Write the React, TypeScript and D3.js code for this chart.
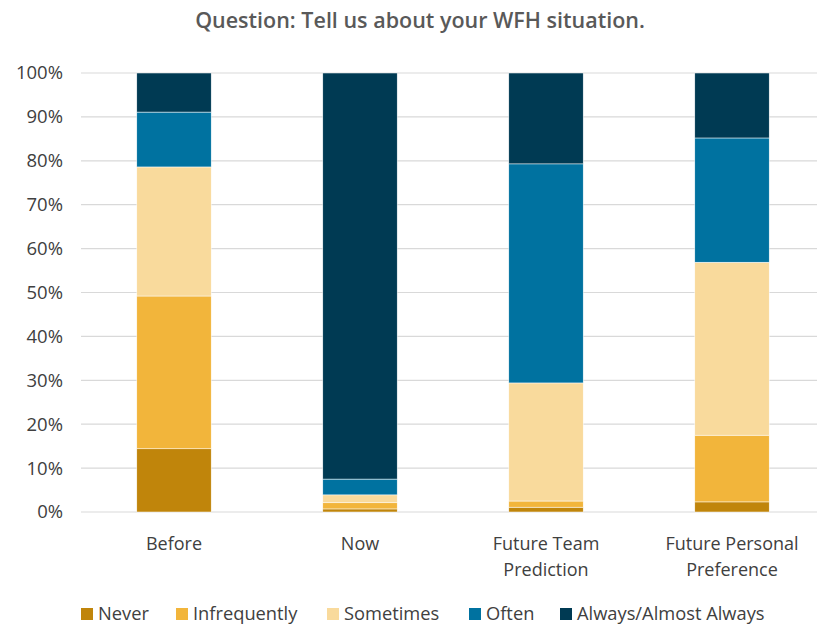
import React from "react";
import * as d3 from "d3";

const categories = ["Before", "Now", "Future Team\nPrediction", "Future Personal\nPreference"];
const seriesNames = ["Never", "Infrequently", "Sometimes", "Often", "Always/Almost Always"];
const seriesColors = ["#C0850B", "#F2B53B", "#F9DA9C", "#0072A0", "#003A53"];
// percentage of responses per category, one array per answer
const never = [14.4, 0.7, 1.1, 2.3];
const infrequently = [34.8, 1.4, 1.4, 15.2];
const sometimes = [29.4, 1.8, 26.9, 39.4];
const often = [12.5, 3.6, 49.9, 28.3];
const always = [8.9, 92.5, 20.7, 14.8];
const yTicks = [0, 10, 20, 30, 40, 50, 60, 70, 80, 90, 100];

const W = 817;
const H = 625;
const left = 81;
const right = 825;
const top = 73;
const bottom = 512;
const font = "'Open Sans', 'Noto Sans', sans-serif";

export default function App() {
  const x = d3.scaleBand<number>().domain(d3.range(categories.length)).range([left, right]).paddingInner(0.6).paddingOuter(0.3);
  const y = d3.scaleLinear().domain([0, 100]).range([bottom, top]);
  const rows = categories.map((_, i) => {
    const r: Record<string, number> = {};
    [never, infrequently, sometimes, often, always].forEach((arr, k) => (r[seriesNames[k]] = arr[i]));
    return r;
  });
  const stacked = d3.stack<Record<string, number>>().keys(seriesNames)(rows);
  const legendX = [81, 176, 327, 469, 560];

  return (
    <svg width={W} height={H} style={{ position: "absolute", left: 0, top: 0, background: "#fff" }}>
      <text x={420} y={28} textAnchor="middle" fontFamily={font} fontSize={21.5} fontWeight={600} fill="#595959">
        Question: Tell us about your WFH situation.
      </text>
      {yTicks.map((t) => (
        <g key={t}>
          <line x1={left} x2={W} y1={y(t)} y2={y(t)} stroke="#D9D9D9" strokeWidth={1.2} />
          <text x={63} y={y(t)} dy="0.35em" textAnchor="end" fontFamily={font} fontSize={18.5} fill="#404040">
            {t}%
          </text>
        </g>
      ))}
      {stacked.map((s, k) => (
        <g key={s.key} fill={seriesColors[k]}>
          {s.map((d, i) => (
            <rect key={i} x={x(i)} width={x.bandwidth()} y={y(d[1])} height={y(d[0]) - y(d[1])} stroke="#fff" strokeWidth={0.5} />
          ))}
        </g>
      ))}
      {categories.map((c, i) => (
        <text key={c} x={(x(i) as number) + x.bandwidth() / 2} y={550} textAnchor="middle" fontFamily={font} fontSize={18} fill="#404040">
          {c.split("\n").map((line, j) => (
            <tspan key={j} x={(x(i) as number) + x.bandwidth() / 2} dy={j === 0 ? 0 : 26}>
              {line}
            </tspan>
          ))}
        </text>
      ))}
      {seriesNames.map((n, k) => (
        <g key={n} transform={`translate(${legendX[k]},614)`}>
          <rect x={0} y={-6} width={12} height={12} fill={seriesColors[k]} />
          <text x={17} y={0} dy="0.35em" fontFamily={font} fontSize={18.3} fill="#404040">
            {n}
          </text>
        </g>
      ))}
    </svg>
  );
}
